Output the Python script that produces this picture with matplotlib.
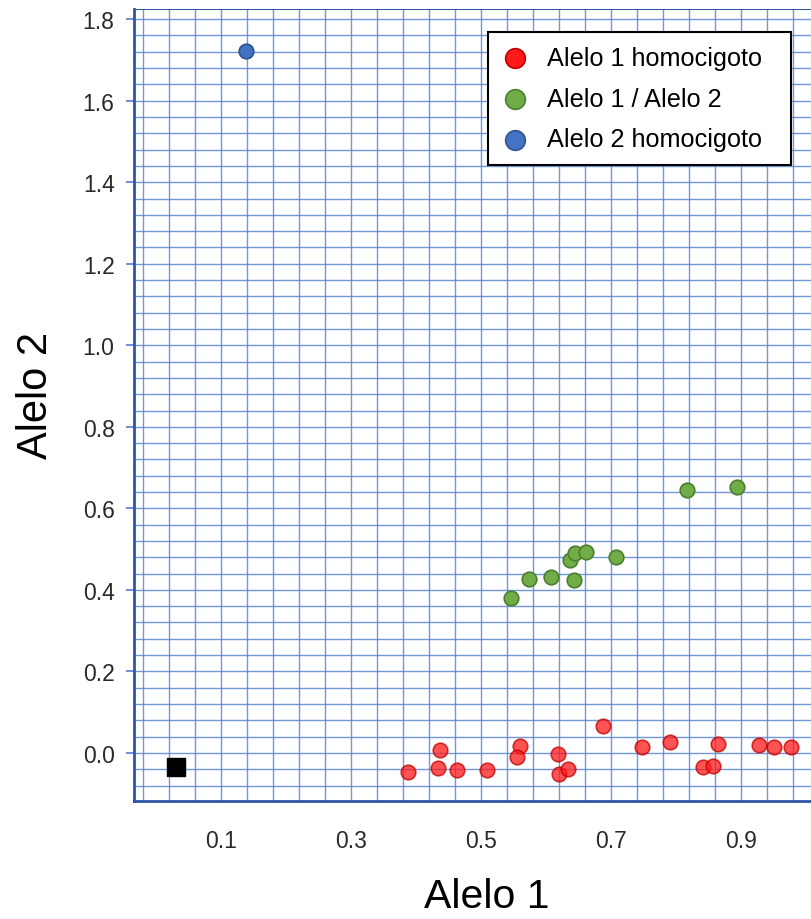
import matplotlib
matplotlib.use("Agg")
import matplotlib.pyplot as plt
from matplotlib.patches import Rectangle
import numpy as np

plt.rcParams['font.family'] = ['Liberation Sans', 'DejaVu Sans']

red_x = [0.388, 0.437, 0.434, 0.463, 0.509, 0.560, 0.555, 0.618, 0.620, 0.633, 0.688,
         0.748, 0.791, 0.842, 0.856, 0.864, 0.927, 0.951, 0.976]
red_y = [-0.047, 0.007, -0.038, -0.043, -0.041, 0.016, -0.009, -0.002, -0.051, -0.039, 0.067,
         0.015, 0.026, -0.035, -0.031, 0.022, 0.020, 0.015, 0.015]
green_x = [0.546, 0.574, 0.607, 0.643, 0.637, 0.644, 0.662, 0.708, 0.817, 0.894]
green_y = [0.380, 0.427, 0.431, 0.423, 0.474, 0.491, 0.493, 0.481, 0.644, 0.653]
blue_x = [0.138]
blue_y = [1.721]
ntc_x = [0.031]
ntc_y = [-0.034]

labels = ['Alelo 1 homocigoto', 'Alelo 1 / Alelo 2', 'Alelo 2 homocigoto']
yticks = [0.0, 0.2, 0.4, 0.6, 0.8, 1.0, 1.2, 1.4, 1.6, 1.8]
xticks = [0.1, 0.3, 0.5, 0.7, 0.9]

fig = plt.figure(figsize=(8.12, 9.2), dpi=100)
ax = fig.add_axes([134/812, 118/920, 1 - 134/812, (910-118)/920])
ax.set_xlim(-0.034, 1.009)
ax.set_ylim(-0.118, 1.825)

gridc = '#4f7fd2'
for v in np.arange(-0.02, 1.01, 0.04):
    ax.axvline(v, color=gridc, lw=1.0, alpha=0.8, zorder=0)
for v in np.arange(-0.08, 1.83, 0.04):
    ax.axhline(v, color=gridc, lw=1.0, alpha=0.8, zorder=0)

ax.scatter(red_x, red_y, s=110, color='#ff1a1a', alpha=0.75, edgecolor='#c00000',
           linewidth=1.2, zorder=3, label=labels[0])
ax.scatter(green_x, green_y, s=110, color='#70ad47', edgecolor='#4e7d31',
           linewidth=1.2, zorder=3, label=labels[1])
ax.scatter(blue_x, blue_y, s=110, color='#4472c4', edgecolor='#2f528f',
           linewidth=1.2, zorder=3, label=labels[2])
ax.scatter(ntc_x, ntc_y, s=150, marker='s', color='black', zorder=3)

for side in ['top', 'right']:
    ax.spines[side].set_visible(False)
for side in ['left', 'bottom']:
    ax.spines[side].set_color('#2f55a4')
    ax.spines[side].set_linewidth(2)
ax.axhline(1.825, color='#2f55a4', lw=1.5, zorder=1)

ax.set_yticks(yticks)
ax.set_yticklabels([f'{v:.1f}' for v in yticks])
ax.set_xticks(xticks)
ax.set_xticklabels([f'{v:.1f}' for v in xticks])
ax.tick_params(axis='y', length=6, width=1.2, color=gridc, pad=8, labelsize=16.5, labelcolor='#2a2a2a')
ax.tick_params(axis='x', length=0, pad=20, labelsize=16.5, labelcolor='#2a2a2a')

fig.text(36/812, 1 - 395/920, 'Alelo 2', rotation=90, ha='center', va='center', fontsize=30)
fig.text(487/812, 1 - 897/920, 'Alelo 1', ha='center', va='center', fontsize=29.5)

# legend frame
frame = Rectangle((488/812, 1 - 166/920), (791-488)/812, (166-33)/920,
                  transform=fig.transFigure, facecolor='white',
                  edgecolor='black', linewidth=1.5, zorder=4, clip_on=False)
ax.add_patch(frame)
leg = ax.legend(loc='upper left', bbox_to_anchor=(495/812, 1 - 39/920),
                bbox_transform=fig.transFigure, fontsize=18.2, markerscale=1.35,
                frameon=False, borderpad=0.3, labelspacing=0.67, handletextpad=0.75,
                handlelength=1.0, borderaxespad=0)
leg.set_zorder(6)
for h in leg.legend_handles:
    h.set_alpha(1)

fig.savefig('out.png', dpi=100)
